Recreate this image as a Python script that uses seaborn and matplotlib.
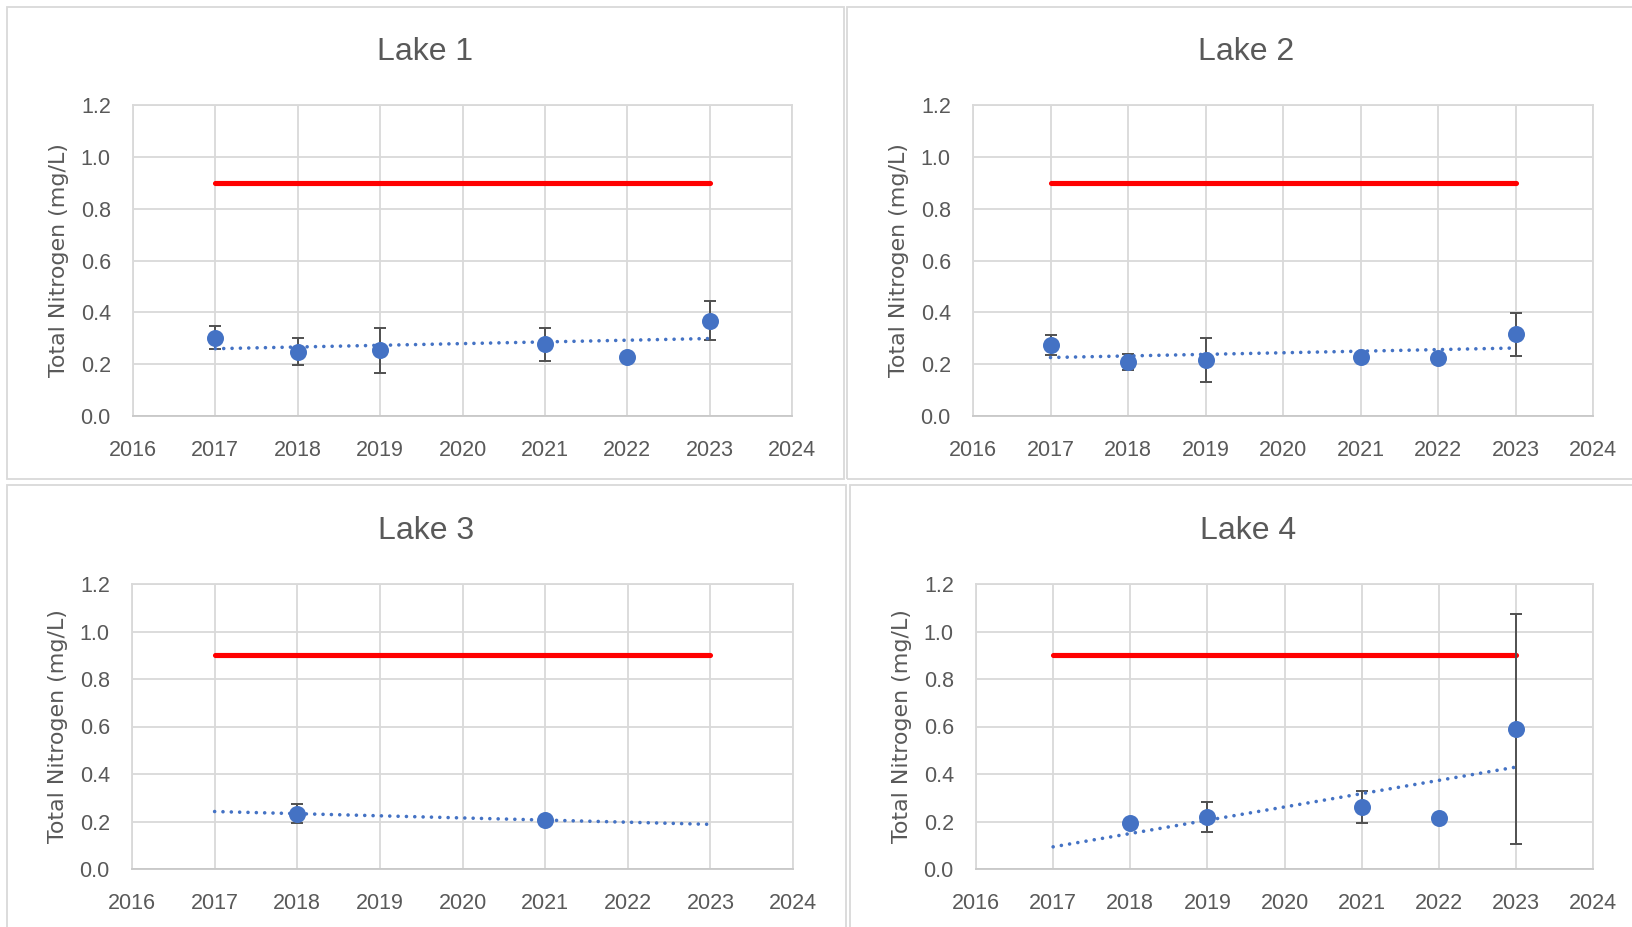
import numpy as np
import pandas as pd
import matplotlib
matplotlib.use("Agg")
import matplotlib.pyplot as plt
from matplotlib.patches import Rectangle
import seaborn as sns

# ---- data -------------------------------------------------------------
lake_names = ["Lake 1", "Lake 2", "Lake 3", "Lake 4"]

lake1_years = [2017, 2018, 2019, 2021, 2022, 2023]
lake1_tn = [0.302, 0.248, 0.253, 0.276, 0.229, 0.368]
lake1_err = [0.045, 0.053, 0.086, 0.064, 0.0, 0.075]

lake2_years = [2017, 2018, 2019, 2021, 2022, 2023]
lake2_tn = [0.273, 0.208, 0.216, 0.227, 0.225, 0.315]
lake2_err = [0.039, 0.031, 0.085, 0.0, 0.0, 0.082]

lake3_years = [2018, 2021]
lake3_tn = [0.233, 0.206]
lake3_err = [0.040, 0.0]

lake4_years = [2018, 2019, 2021, 2022, 2023]
lake4_tn = [0.192, 0.220, 0.261, 0.213, 0.588]
lake4_err = [0.0, 0.063, 0.066, 0.0, 0.484]

criterion_years = [2017, 2023]
criterion_tn = [0.9, 0.9]

x_ticks = [2016, 2017, 2018, 2019, 2020, 2021, 2022, 2023, 2024]
y_ticks = [0.0, 0.2, 0.4, 0.6, 0.8, 1.0, 1.2]

lakes = [
    (lake1_years, lake1_tn, lake1_err),
    (lake2_years, lake2_tn, lake2_err),
    (lake3_years, lake3_tn, lake3_err),
    (lake4_years, lake4_tn, lake4_err),
]

# ---- style ------------------------------------------------------------
sns.set_theme(style="white")
plt.rcParams["font.family"] = ["Liberation Sans", "DejaVu Sans"]

BLUE = "#4472C4"
RED = "#FF0000"
GRID = "#D9D9D9"
TEXT = "#595959"
ERR = "#505050"

W, H = 1633, 927
fig = plt.figure(figsize=(W / 100, H / 100), dpi=100)
fig.patch.set_facecolor("white")

# plot areas in pixels: (left, top, right, bottom)
plot_boxes = [
    (133, 105, 792, 416),
    (973, 105, 1593, 416),
    (132, 584, 793, 869),
    (976, 584, 1593, 869),
]
# chart frames in pixels: (left, top, right, bottom)
frames = [
    (6.5, 6.5, 844, 479),
    (847.5, 6.5, 1660, 479),
    (6.5, 485, 846, 940),
    (850, 485, 1660, 940),
]
title_pos = [(425, 52), (1246, 52), (426, 531), (1248, 531)]

for (l, t, r, b) in frames:
    fig.patches.append(Rectangle((l / W, 1 - b / H), (r - l) / W, (b - t) / H,
                                 transform=fig.transFigure, fill=False,
                                 edgecolor=GRID, linewidth=1.3, zorder=0))

for i, (years, tn, err) in enumerate(lakes):
    l, t, r, b = plot_boxes[i]
    ax = fig.add_axes([l / W, 1 - b / H, (r - l) / W, (b - t) / H])
    ax.set_facecolor("white")

    df = pd.DataFrame({"year": years, "tn": tn, "err": err})
    crit = pd.DataFrame({"year": criterion_years, "tn": criterion_tn})

    # water-quality criterion line
    sns.lineplot(data=crit, x="year", y="tn", ax=ax, color=RED, linewidth=3.7,
                 solid_capstyle="round", zorder=3)

    # standard-error bars (only where an error exists)
    eb = df[df["err"] > 0]
    ax.errorbar(eb["year"], eb["tn"], yerr=eb["err"], fmt="none",
                ecolor=ERR, elinewidth=1.4, capsize=4.5, capthick=1.4, zorder=4)

    # annual means
    sns.scatterplot(data=df, x="year", y="tn", ax=ax, color=BLUE, s=150,
                    edgecolor=BLUE, linewidth=0, zorder=5)

    # linear trend across the monitoring period
    slope, intercept = np.polyfit(df["year"], df["tn"], 1)
    trend = pd.DataFrame({"year": criterion_years})
    trend["tn"] = slope * trend["year"] + intercept
    sns.lineplot(data=trend, x="year", y="tn", ax=ax, color=BLUE, linewidth=2.6,
                 linestyle=(0, (0.01, 2.3)), dash_capstyle="round", zorder=6)

    ax.set_xlim(2016, 2024)
    ax.set_ylim(0, 1.2)
    ax.set_xticks(x_ticks)
    ax.set_yticks(y_ticks)
    ax.set_xticklabels([str(v) for v in x_ticks])
    ax.set_yticklabels([f"{v:.1f}" for v in y_ticks])
    ax.grid(True, color=GRID, linewidth=1.3)
    ax.set_axisbelow(True)
    for s in ax.spines.values():
        s.set_visible(True)
        s.set_color(GRID)
        s.set_linewidth(1.3)
    ax.spines["bottom"].set_color("#C8C8C8")
    ax.tick_params(axis="both", length=0, labelsize=15.5, labelcolor=TEXT)
    ax.tick_params(axis="y", pad=16)
    ax.tick_params(axis="x", pad=17)
    ax.set_xlabel("")
    ax.set_ylabel("Total Nitrogen (mg/L)", fontsize=15.9, color=TEXT,
                  family=["DejaVu Sans"], labelpad=8)

    tx, ty = title_pos[i]
    fig.text(tx / W, 1 - ty / H, lake_names[i], ha="center", va="center",
             fontsize=23, color=TEXT)

fig.savefig("out.png", dpi=100, facecolor="white")
